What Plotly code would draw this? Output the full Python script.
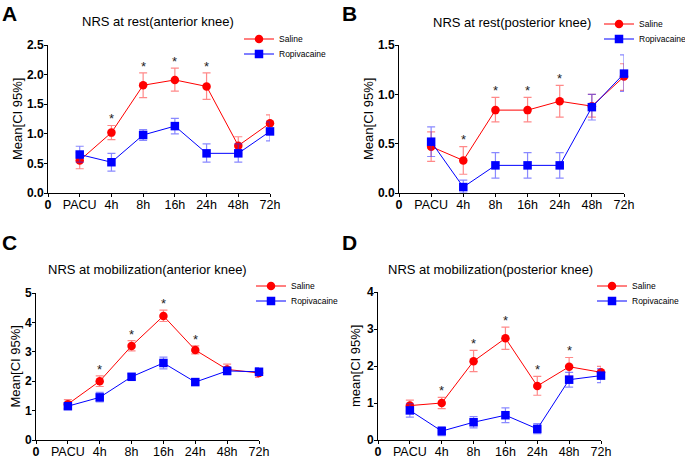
import plotly.graph_objects as go

times = ["PACU", "4h", "8h", "16h", "24h", "48h", "72h"]
x_ticktext = ["<b>0</b>"] + times

# Panel A: NRS at rest (anterior knee)
a_sal = [0.55, 1.02, 1.82, 1.91, 1.80, 0.80, 1.18]
a_sal_lo = [0.41, 0.90, 1.61, 1.72, 1.58, 0.66, 1.04]
a_sal_hi = [0.68, 1.14, 2.03, 2.11, 2.03, 0.95, 1.32]
a_rop = [0.65, 0.52, 0.98, 1.13, 0.67, 0.67, 1.04]
a_rop_lo = [0.52, 0.37, 0.89, 1.00, 0.52, 0.52, 0.88]
a_rop_hi = [0.79, 0.67, 1.07, 1.26, 0.83, 0.83, 1.20]
a_stars = ["4h", "8h", "16h", "24h"]

# Panel B: NRS at rest (posterior knee)
b_sal = [0.47, 0.33, 0.84, 0.84, 0.93, 0.88, 1.18]
b_sal_lo = [0.32, 0.19, 0.72, 0.72, 0.77, 0.77, 1.04]
b_sal_hi = [0.62, 0.47, 0.97, 0.97, 1.09, 1.00, 1.31]
b_rop = [0.52, 0.06, 0.28, 0.28, 0.28, 0.87, 1.21]
b_rop_lo = [0.37, 0.00, 0.15, 0.15, 0.15, 0.74, 1.03]
b_rop_hi = [0.67, 0.13, 0.41, 0.41, 0.41, 1.00, 1.40]
b_stars = ["4h", "8h", "16h", "24h"]

# Panel C: NRS at mobilization (anterior knee)
c_sal = [1.22, 2.00, 3.20, 4.22, 3.06, 2.40, 2.28]
c_sal_lo = [1.07, 1.82, 3.03, 4.03, 2.93, 2.23, 2.13]
c_sal_hi = [1.37, 2.18, 3.38, 4.42, 3.20, 2.58, 2.42]
c_rop = [1.15, 1.45, 2.15, 2.62, 1.97, 2.35, 2.32]
c_rop_lo = [1.05, 1.30, 2.05, 2.42, 1.88, 2.22, 2.18]
c_rop_hi = [1.25, 1.62, 2.25, 2.82, 2.05, 2.48, 2.46]
c_stars = ["4h", "8h", "16h", "24h"]

# Panel D: NRS at mobilization (posterior knee)
d_sal = [0.93, 1.00, 2.13, 2.75, 1.46, 1.98, 1.83]
d_sal_lo = [0.78, 0.85, 1.85, 2.45, 1.21, 1.73, 1.67]
d_sal_hi = [1.08, 1.15, 2.42, 3.05, 1.72, 2.23, 1.99]
d_rop = [0.80, 0.24, 0.48, 0.67, 0.30, 1.63, 1.74]
d_rop_lo = [0.62, 0.12, 0.33, 0.47, 0.17, 1.43, 1.55]
d_rop_hi = [0.98, 0.36, 0.63, 0.87, 0.44, 1.83, 1.93]
d_stars = ["4h", "8h", "16h", "24h", "48h"]

W, H = 685, 458
FONT = "Liberation Sans, Arial, sans-serif"

def px_x(p):
    return p / W

def px_y(p):
    return 1 - p / H

panels = [
    dict(letter="A", title="NRS at rest(anterior knee)", ytitle="Mean[CI 95%]",
         sal=(a_sal, a_sal_lo, a_sal_hi), rop=(a_rop, a_rop_lo, a_rop_hi), stars=a_stars,
         yrange=2.5, dtick=0.5, fmt=".1f",
         xd=(48, 270), yd=(45, 193), title_xy=(158, 21), letter_xy=(0, 0),
         leg_x=239, leg_y=(39, 54), ytitle_x=17),
    dict(letter="B", title="NRS at rest(posterior knee)", ytitle="Mean[CI 95%]",
         sal=(b_sal, b_sal_lo, b_sal_hi), rop=(b_rop, b_rop_lo, b_rop_hi), stars=b_stars,
         yrange=1.5, dtick=0.5, fmt=".1f",
         xd=(399, 624), yd=(45, 193), title_xy=(512, 22), letter_xy=(340, 0),
         leg_x=599, leg_y=(24, 39), ytitle_x=368),
    dict(letter="C", title="NRS at mobilization(anterior knee)", ytitle="Mean[CI 95%]",
         sal=(c_sal, c_sal_lo, c_sal_hi), rop=(c_rop, c_rop_lo, c_rop_hi), stars=c_stars,
         yrange=5, dtick=1, fmt="d",
         xd=(36, 259), yd=(293, 440), title_xy=(147, 269), letter_xy=(0, 229),
         leg_x=251, leg_y=(286, 301), ytitle_x=15),
    dict(letter="D", title="NRS at mobilization(posterior knee)", ytitle="mean[CI 95%]",
         sal=(d_sal, d_sal_lo, d_sal_hi), rop=(d_rop, d_rop_lo, d_rop_hi), stars=d_stars,
         yrange=4, dtick=1, fmt="d",
         xd=(378, 601), yd=(292, 440), title_xy=(490, 269), letter_xy=(340, 229),
         leg_x=592, leg_y=(286, 301), ytitle_x=355),
]

xs = list(range(1, len(times) + 1))
fig = go.Figure()
layout = dict(
    width=W, height=H, margin=dict(l=0, r=0, t=0, b=0, autoexpand=False),
    paper_bgcolor="white", plot_bgcolor="white",
    font=dict(family=FONT, color="black"),
    showlegend=True,
)
annotations = []
leg_count = 0

for i, p in enumerate(panels):
    n = "" if i == 0 else str(i + 1)
    xa, ya = "x" + n, "y" + n
    series = [
        ("Saline", p["sal"], "#FF0000", "rgba(255,40,40,0.55)", "circle", p["leg_y"][0]),
        ("Ropivacaine", p["rop"], "#0000FF", "rgba(40,40,255,0.55)", "square", p["leg_y"][1]),
    ]
    for name, (m, lo, hi), color, ecol, sym, ly in series:
        leg_count += 1
        leg = "legend" if leg_count == 1 else "legend%d" % leg_count
        fig.add_trace(go.Scatter(
            x=xs, y=m, name=name, mode="lines+markers", xaxis=xa, yaxis=ya,
            legend=leg, cliponaxis=False,
            line=dict(color=color, width=1),
            marker=dict(color=color, size=8.5, symbol=sym),
            error_y=dict(type="data", symmetric=False,
                         array=[h - v for h, v in zip(hi, m)],
                         arrayminus=[v - l for v, l in zip(m, lo)],
                         color=ecol, thickness=1.2, width=4),
        ))
        layout[leg] = dict(
            x=px_x(p["leg_x"]), y=px_y(ly), xanchor="left", yanchor="middle",
            font=dict(size=8.5, family=FONT, color="black"), bgcolor="rgba(0,0,0,0)",
            itemwidth=30, borderwidth=0,
        )
    # significance stars
    hi_all = [max(a, b) for a, b in zip(p["sal"][2], p["rop"][2])]
    off = p["yrange"] * 0.045
    for t in p["stars"]:
        k = times.index(t)
        annotations.append(dict(
            x=k + 1, y=hi_all[k] + off, xref=xa, yref=ya, text="*",
            showarrow=False, yanchor="middle",
            font=dict(size=13, family=FONT, color="#222"),
        ))
    layout["xaxis" + n] = dict(
        domain=[px_x(p["xd"][0]), px_x(p["xd"][1])], anchor=ya,
        range=[0, len(times)], tickvals=list(range(0, len(times) + 1)),
        ticktext=x_ticktext, showgrid=False, zeroline=False,
        showline=True, linecolor="black", linewidth=1,
        ticks="outside", ticklen=3, tickcolor="black", ticklabelstandoff=-3,
        tickfont=dict(size=12.5, family=FONT, color="black"),
    )
    layout["yaxis" + n] = dict(
        domain=[px_y(p["yd"][1]), px_y(p["yd"][0])], anchor=xa,
        range=[0, p["yrange"]], dtick=p["dtick"], tick0=0, tickformat=p["fmt"],
        showgrid=False, zeroline=False,
        showline=True, linecolor="black", linewidth=1,
        ticks="outside", ticklen=3, tickcolor="black", ticklabelstandoff=-2,
        tickfont=dict(size=12, family=FONT, color="black", weight="bold"),
    )
    annotations.append(dict(
        x=px_x(p["title_xy"][0]), y=px_y(p["title_xy"][1]), xref="paper", yref="paper",
        text=p["title"], showarrow=False, xanchor="center", yanchor="middle",
        font=dict(size=13, family=FONT, color="black"),
    ))
    annotations.append(dict(
        x=px_x(p["letter_xy"][0]), y=px_y(p["letter_xy"][1]), xref="paper", yref="paper",
        text="<b>" + p["letter"] + "</b>", showarrow=False, xanchor="left", yanchor="top",
        font=dict(size=21, family=FONT, color="black"),
    ))
    annotations.append(dict(
        x=px_x(p["ytitle_x"]), y=px_y((p["yd"][0] + p["yd"][1]) / 2), xref="paper", yref="paper",
        text=p["ytitle"], showarrow=False, textangle=-90, xanchor="center", yanchor="middle",
        font=dict(size=13, family=FONT, color="black"),
    ))

layout["annotations"] = annotations
fig.update_layout(**layout)
fig.write_html(
    "out.html",
    config={"displayModeBar": False},
    post_script="document.body.style.margin='0';document.body.style.padding='0';"
                "document.body.style.overflow='hidden';"
                "document.documentElement.style.overflow='hidden';",
)
